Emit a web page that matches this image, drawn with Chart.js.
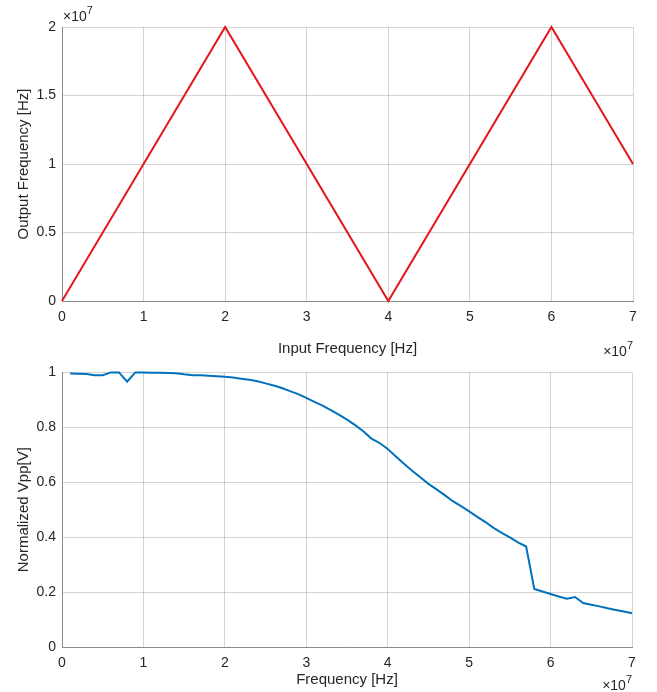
<!DOCTYPE html>
<html>
<head>
<meta charset="utf-8">
<script src="https://cdn.jsdelivr.net/npm/chart.js@4.4.1/dist/chart.umd.min.js"></script>
<style>
  html, body { margin: 0; padding: 0; background: #fff; }
  .wrap { position: absolute; left: 0; width: 657px; }
  .wrap canvas { display: block; }
  #topWrap { top: 0; height: 358px; }
  #bottomWrap { top: 358px; height: 334px; }
</style>
</head>
<body>
<div class="wrap" id="topWrap"><canvas id="topChart"></canvas></div>
<div class="wrap" id="bottomWrap"><canvas id="bottomChart"></canvas></div>
<script>
// top plot: input vs output frequency (Hz)
const inputFreq = [0, 2e7, 4e7, 6e7, 7e7];
const outputFreq = [0, 2e7, 0, 2e7, 1e7];

// bottom plot: sweep frequency (MHz) vs normalized Vpp
const sweepMHz = [
  1, 2, 3, 4, 5, 6, 7, 8, 9, 10,
  11, 12, 13, 14, 15, 16, 17, 18, 19, 20,
  21, 22, 23, 24, 25, 26, 27, 28, 29, 30,
  31, 32, 33, 34, 35, 36, 37, 38, 39, 40,
  41, 42, 43, 44, 45, 46, 47, 48, 49, 50,
  51, 52, 53, 54, 55, 56, 57, 58, 59, 60,
  61, 62, 63, 64, 65, 66, 67, 68, 69, 70,
];
const normVpp = [
  0.996, 0.995, 0.994, 0.99, 0.99, 1.0, 1.0, 0.966, 1.0, 1.0,
  0.999, 0.999, 0.998, 0.997, 0.993, 0.99, 0.99, 0.988, 0.986, 0.984,
  0.981, 0.977, 0.973, 0.968, 0.96, 0.952, 0.943, 0.932, 0.921, 0.907,
  0.893, 0.879, 0.863, 0.846, 0.828, 0.808, 0.786, 0.759, 0.743, 0.721,
  0.694, 0.667, 0.642, 0.618, 0.594, 0.574, 0.553, 0.531, 0.513, 0.494,
  0.474, 0.455, 0.434, 0.416, 0.399, 0.381, 0.366, 0.211, 0.202, 0.193,
  0.184, 0.176, 0.182, 0.16, 0.154, 0.148, 0.141, 0.135, 0.129, 0.123,
];

const xTicks = [0, 1, 2, 3, 4, 5, 6, 7];

const FONT = '"Liberation Sans", Arial, Helvetica, sans-serif';
const ink = "#262626";
const grid = "rgba(0, 0, 0, 0.17)";
const axisLine = "#8a8a8a";

Chart.defaults.font.family = FONT;
Chart.defaults.color = ink;
Chart.defaults.animation = false;

// draws "×10^7" labels like MATLAB's exponent annotation
const exponentPlugin = {
  id: "exponent",
  afterDraw(chart, args, opts) {
    const ctx = chart.ctx;
    (opts.labels || []).forEach((lab) => {
      const x = lab.x(chart.chartArea);
      const y = lab.y(chart.chartArea);
      ctx.save();
      ctx.fillStyle = ink;
      ctx.textBaseline = "alphabetic";
      const base = "\u00d710";
      ctx.font = `11px ${FONT}`;
      const supW = ctx.measureText("7").width;
      ctx.font = `14px ${FONT}`;
      const baseW = ctx.measureText(base).width;
      const left = lab.align === "right" ? x - baseW - supW : x;
      ctx.textAlign = "left";
      ctx.fillText(base, left, y);
      ctx.font = `11px ${FONT}`;
      ctx.fillText("7", left + baseW, y - 7);
      ctx.restore();
    });
  },
};

function xScale(title, titlePadBottom, height) {
  return {
    type: "linear",
    min: 0,
    max: 7e7,
    afterBuildTicks: (axis) => {
      axis.ticks = xTicks.map((v) => ({ value: v * 1e7 }));
    },
    afterFit: (axis) => {
      axis.height = height;
    },
    grid: { color: grid, drawTicks: false },
    border: { color: axisLine, width: 1 },
    ticks: {
      padding: 8,
      font: { size: 14 },
      color: ink,
      maxRotation: 0,
      callback: (v) => String(Math.round(v / 1e6) / 10),
    },
    title: {
      display: true,
      text: title,
      font: { size: 15 },
      color: ink,
      padding: { top: 0, bottom: titlePadBottom },
    },
  };
}

function yScale(title, min, max, step, scale) {
  return {
    min: min,
    max: max,
    afterFit: (axis) => {
      axis.width = 62;
    },
    grid: { color: grid, drawTicks: false },
    border: { color: axisLine, width: 1 },
    ticks: {
      stepSize: step,
      padding: 6,
      font: { size: 14 },
      color: ink,
      callback: (v) => String(Math.round((v / scale) * 10) / 10),
    },
    title: {
      display: true,
      text: title,
      font: { size: 15 },
      color: ink,
      padding: { top: 15, bottom: 0 },
    },
  };
}

new Chart(document.getElementById("topChart"), {
  type: "line",
  data: {
    datasets: [
      {
        data: inputFreq.map((x, i) => ({ x: x, y: outputFreq[i] })),
        borderColor: "#e3161c",
        borderWidth: 2,
        pointRadius: 0,
        tension: 0,
        clip: 4,
      },
    ],
  },
  options: {
    responsive: true,
    maintainAspectRatio: false,
    layout: { padding: { top: 27, right: 24, left: 0, bottom: 0 } },
    plugins: {
      legend: { display: false },
      tooltip: { enabled: false },
      exponent: {
        labels: [
          { align: "left", x: (a) => a.left + 1, y: (a) => a.top - 6 },
          { align: "right", x: (a) => a.right, y: () => 356 },
        ],
      },
    },
    scales: {
      x: xScale("Input Frequency [Hz]", 0, 57),
      y: yScale("Output Frequency [Hz]", 0, 2e7, 5e6, 1e7),
    },
  },
  plugins: [exponentPlugin],
});

new Chart(document.getElementById("bottomChart"), {
  type: "line",
  data: {
    datasets: [
      {
        data: sweepMHz.map((f, i) => ({ x: f * 1e6, y: normVpp[i] })),
        borderColor: "#0072bd",
        borderWidth: 2,
        pointRadius: 0,
        tension: 0,
        clip: 4,
      },
    ],
  },
  options: {
    responsive: true,
    maintainAspectRatio: false,
    layout: { padding: { top: 10, right: 25, left: 0, bottom: 0 } },
    plugins: {
      legend: { display: false },
      tooltip: { enabled: false },
      exponent: {
        labels: [{ align: "right", x: (a) => a.right, y: () => 332 }],
      },
    },
    scales: {
      x: xScale("Frequency [Hz]", 3, 45),
      y: {
        ...yScale("Normalized Vpp[V]", 0, 1, 0.2, 1),
        ticks: {
          stepSize: 0.2,
          padding: 6,
          font: { size: 14 },
          color: ink,
          callback: (v) => String(Math.round(v * 10) / 10),
        },
      },
    },
  },
  plugins: [exponentPlugin],
});
</script>
</body>
</html>
